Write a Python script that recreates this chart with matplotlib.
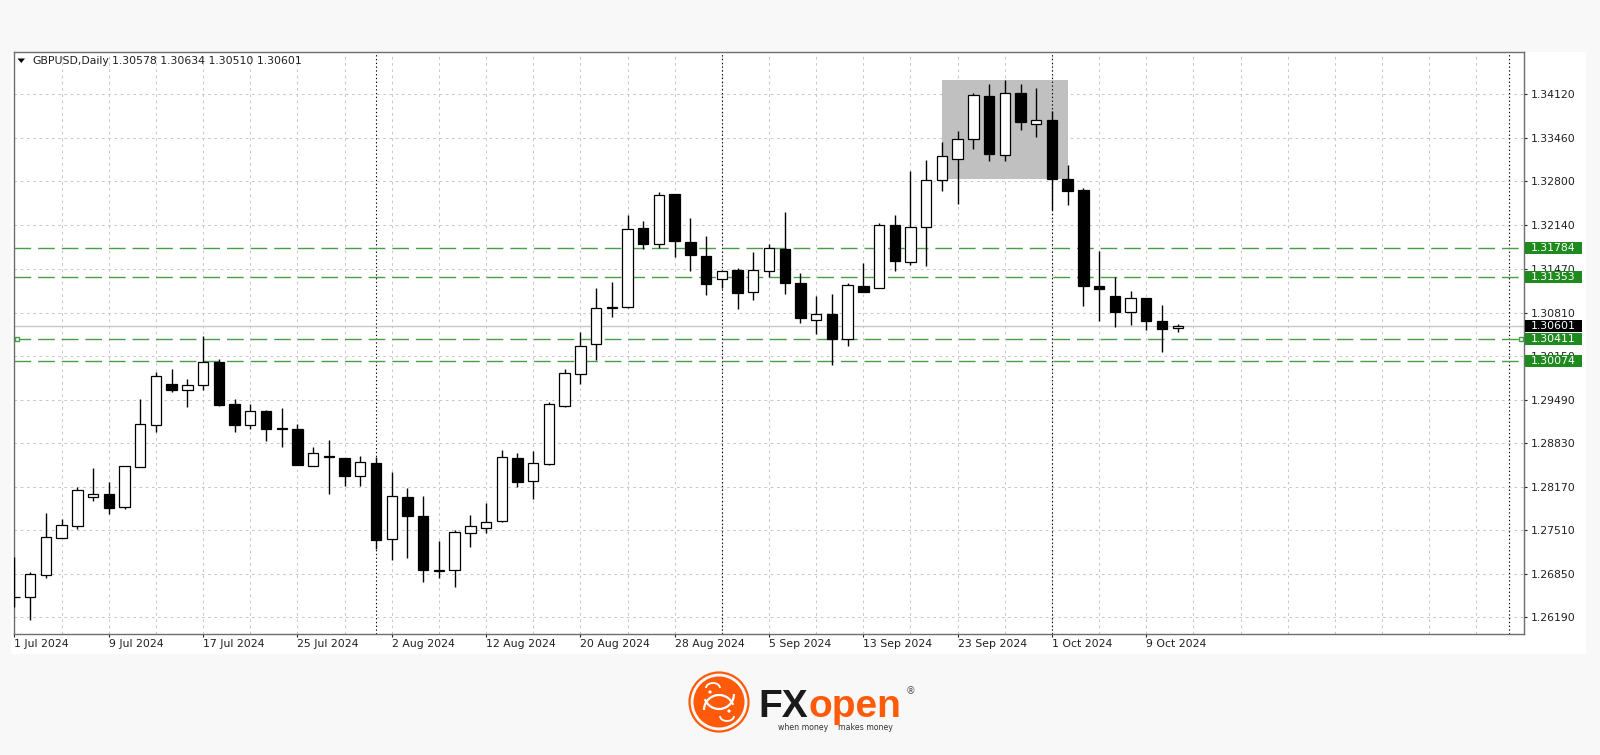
import matplotlib
matplotlib.use("Agg")
import matplotlib.pyplot as plt
import matplotlib.transforms as mtransforms
from matplotlib.patches import Rectangle, Circle, Polygon, Arc
import numpy as np
import pandas as pd

plt.rcParams['font.family'] = ['DejaVu Sans']

# ---------------- data ----------------
symbol_header = "GBPUSD,Daily"
header_ohlc = "1.30578 1.30634 1.30510 1.30601"

dates = pd.bdate_range("2024-07-01", "2024-10-11")

opens = [1.26505, 1.26502, 1.26831, 1.27388, 1.27574, 1.28010, 1.28060, 1.27858, 1.28474, 1.29106,
         1.29732, 1.29641, 1.29712, 1.30066, 1.29429, 1.29106, 1.29318, 1.29055, 1.29045, 1.28489,
         1.28636, 1.28605, 1.28337, 1.28534, 1.27373, 1.28019, 1.27726, 1.26907, 1.26907, 1.27468,
         1.27549, 1.27650, 1.28610, 1.28261, 1.28515, 1.29399, 1.29875, 1.30330, 1.30880, 1.30900,
         1.32098, 1.31846, 1.32613, 1.31885, 1.31668, 1.31320, 1.31456, 1.31118, 1.31436, 1.31775,
         1.31264, 1.30698, 1.30789, 1.30410, 1.31218, 1.31183, 1.32138, 1.31573, 1.32108, 1.32816,
         1.33144, 1.33442, 1.34099, 1.33204, 1.34135, 1.33675, 1.33726, 1.32831, 1.32669, 1.31218,
         1.31062, 1.30815, 1.31027, 1.30683, 1.30578]
highs = [1.27109, 1.26881, 1.27776, 1.27676, 1.28170, 1.28458, 1.28246, 1.28480, 1.29496, 1.29905,
         1.29950, 1.29799, 1.30455, 1.30102, 1.29500, 1.29424, 1.29338, 1.29368, 1.29121, 1.28777,
         1.28878, 1.28605, 1.28640, 1.28625, 1.28398, 1.28151, 1.28025, 1.27351, 1.27509, 1.27746,
         1.27928, 1.28727, 1.28681, 1.28712, 1.29450, 1.29960, 1.30521, 1.31188, 1.31279, 1.32290,
         1.32204, 1.32634, 1.32613, 1.32249, 1.31976, 1.31446, 1.31482, 1.31734, 1.31846, 1.32340,
         1.31406, 1.31062, 1.31092, 1.31254, 1.31558, 1.32164, 1.32290, 1.32962, 1.33124, 1.33392,
         1.33568, 1.34135, 1.34281, 1.34342, 1.34272, 1.34216, 1.33872, 1.33044, 1.32695, 1.31740,
         1.31345, 1.31133, 1.31027, 1.30925, 1.30634]
lows = [1.26342, 1.26149, 1.26781, 1.27388, 1.27529, 1.27953, 1.27761, 1.27828, 1.28465, 1.29004,
        1.29602, 1.29374, 1.29637, 1.29389, 1.29000, 1.29050, 1.28863, 1.28768, 1.28499, 1.28489,
        1.28055, 1.28186, 1.28186, 1.27226, 1.27059, 1.27085, 1.26721, 1.26790, 1.26645, 1.27261,
        1.27473, 1.27631, 1.28161, 1.27979, 1.28499, 1.29383, 1.29728, 1.30091, 1.30748, 1.30885,
        1.31770, 1.31790, 1.31658, 1.31436, 1.31072, 1.31179, 1.30860, 1.30997, 1.31345, 1.31088,
        1.30648, 1.30486, 1.30016, 1.30304, 1.31118, 1.31183, 1.31445, 1.31532, 1.31521, 1.32659,
        1.32457, 1.33295, 1.33104, 1.33113, 1.33574, 1.33477, 1.32366, 1.32442, 1.30910, 1.30683,
        1.30587, 1.30622, 1.30546, 1.30208, 1.30510]
closes = [1.26500, 1.26851, 1.27403, 1.27590, 1.28116, 1.28060, 1.27852, 1.28480, 1.29126, 1.29853,
          1.29641, 1.29712, 1.30066, 1.29414, 1.29106, 1.29314, 1.29050, 1.29045, 1.28499, 1.28677,
          1.28616, 1.28337, 1.28545, 1.27358, 1.28029, 1.27726, 1.26907, 1.26897, 1.27488, 1.27579,
          1.27631, 1.28625, 1.28246, 1.28534, 1.29424, 1.29894, 1.30308, 1.30875, 1.30900, 1.32078,
          1.31855, 1.32598, 1.31900, 1.31684, 1.31248, 1.31446, 1.31112, 1.31452, 1.31785, 1.31259,
          1.30724, 1.30794, 1.30410, 1.31224, 1.31118, 1.32138, 1.31588, 1.32113, 1.32821, 1.33185,
          1.33442, 1.34105, 1.33210, 1.34135, 1.33700, 1.33726, 1.32836, 1.32659, 1.31214, 1.31168,
          1.30815, 1.31027, 1.30683, 1.30557, 1.30601]

level_lines = [1.31784, 1.31353, 1.30411, 1.30074]
bid_price = 1.30601
y_ticks = [1.26190, 1.26850, 1.27510, 1.28170, 1.28830, 1.29490, 1.30150,
           1.30810, 1.31470, 1.32140, 1.32800, 1.33460, 1.34120]
separator_dates = ["2024-08-01", "2024-09-02", "2024-10-01"]
extra_separator_bar = 95.05
zone_start_date, zone_end_date = "2024-09-20", "2024-10-02"
zone_low, zone_high = 1.32831, 1.34337

# ---------------- layout helpers ----------------
W, H = 1600, 755
def fx(px):
    return px / W
def fy(py):
    return 1 - py / H

fig = plt.figure(figsize=(W / 100, H / 100), dpi=100)
fig.patch.set_facecolor('#f8f8f8')
fig.patches.append(Rectangle((fx(11), fy(654)), fx(1586) - fx(11), fy(52) - fy(654),
                             transform=fig.transFigure, facecolor='white', edgecolor='none', zorder=-5))

ax = fig.add_axes([fx(14), fy(633.5), fx(1524) - fx(14), fy(52) - fy(633.5)])
ax.set_zorder(1)
ax.set_facecolor('white')
n_visible = 96.06
ax.set_xlim(-0.03, n_visible - 0.03)
ax.set_ylim(1.25944, 1.34762)

for s in ax.spines.values():
    s.set_color('#6e6e6e')
    s.set_linewidth(1.0)

n = len(opens)
xi = np.arange(n)
date_index = {d.strftime("%Y-%m-%d"): i for i, d in enumerate(dates)}

# grid
grid_color = '#c8c8c8'
for gx in np.arange(0, 97, 3):
    ax.axvline(gx, color=grid_color, lw=0.75, linestyle=(0, (2.5, 3.5)), zorder=1)
for gy in y_ticks:
    ax.axhline(gy, color=grid_color, lw=0.75, linestyle=(0, (2.5, 3.5)), zorder=1)

# highlighted zone
zs, ze = date_index[zone_start_date], date_index[zone_end_date]
ax.add_patch(Rectangle((zs, zone_low), ze - zs, zone_high - zone_low,
                       facecolor='#c0c0c0', edgecolor='none', zorder=1.5))

# period separators
for d in separator_dates:
    ax.axvline(date_index[d], color='black', lw=0.8, linestyle=(0, (1.2, 2.2)), zorder=2)
ax.axvline(extra_separator_bar, color='black', lw=0.8, linestyle=(0, (1.2, 2.2)), zorder=2)

# bid line
ax.axhline(bid_price, color='#c8c8c8', lw=1.0, zorder=2)

# green levels
green_line = '#4a9e4a'
for lv in level_lines:
    ax.axhline(lv, color=green_line, lw=1.0, dashes=(12, 5), zorder=2.2)
ax.plot([0.15, 95.85], [level_lines[2], level_lines[2]], ls='none', marker='s', ms=3.2,
        mfc='white', mec=green_line, mew=1.0, zorder=2.3, clip_on=False)

# candles
o = np.array(opens); c = np.array(closes); h = np.array(highs); l = np.array(lows)
ax.vlines(xi, l, h, color='black', lw=1.0, zorder=3)
bottoms = np.minimum(o, c)
heights = np.maximum(np.abs(c - o), 1e-6)
cols = ['white' if cc >= oo else 'black' for oo, cc in zip(o, c)]
ax.bar(xi, heights, bottom=bottoms, width=0.66, color=cols, edgecolor='black',
       linewidth=0.9, zorder=4)

# y axis on right
ax.yaxis.tick_right()
ax.set_yticks(y_ticks)
ax.set_yticklabels([f"{v:.5f}" for v in y_ticks])
ax.tick_params(axis='y', length=2.2, width=0.8, pad=2.6, labelsize=7.8,
               colors='#202020', direction='out')

# x axis
label_idx = list(range(0, 73, 6))
ax.set_xticks(label_idx)
ax.set_xticklabels([f"{dates[i].day} {dates[i].strftime('%b %Y')}" for i in label_idx],
                   ha='left')
ax.tick_params(axis='x', length=2.2, width=0.8, pad=1.6, labelsize=7.8, colors='#202020')

# price labels on right
blend = mtransforms.blended_transform_factory(fig.transFigure, ax.transData)
px_per_unit = (633.5 - 52) / (1.34762 - 1.25944)
box_h = 12.0 / px_per_unit
def price_label(val, face):
    fig.patches.append(Rectangle((fx(1525), val - box_h / 2), fx(1582) - fx(1525), box_h,
                                 transform=blend, facecolor=face, edgecolor='none', zorder=5))
    fig.text(fx(1553.5), val, f"{val:.5f}", transform=blend, ha='center', va='center',
             fontsize=7.8, color='white', zorder=6)

for lv in level_lines:
    price_label(lv, '#1f8b1f')
price_label(bid_price, 'black')

# header
fig.patches.append(Polygon([[fx(17.5), fy(58.5)], [fx(25), fy(58.5)], [fx(21.25), fy(63)]],
                           closed=True, transform=fig.transFigure, facecolor='black',
                           edgecolor='none', zorder=6))
fig.text(fx(32), fy(61.5), symbol_header, fontsize=7.8, color='#202020', va='center', ha='left',
         zorder=6)
fig.text(fx(111.5), fy(61.5), header_ohlc, fontsize=7.8, color='#202020', va='center', ha='left',
         zorder=6)

# ---------------- logo ----------------
orange = '#ff5a0a'
fig.text(fx(758), fy(717), "FX", fontsize=28, fontweight='bold', family='Liberation Sans',
         color='#1a1a1a', va='baseline', ha='left')
fig.text(fx(808), fy(717), "open", fontsize=28, fontweight='bold', family='Liberation Sans',
         color=orange, va='baseline', ha='left')
fig.text(fx(906), fy(691), "®", fontsize=7, color='#555555', va='center', ha='left')
fig.text(fx(778), fy(727), "when money", fontsize=5.6, color='#333333', va='center', ha='left')
fig.text(fx(838), fy(727), "makes money", fontsize=5.6, color='#333333', va='center', ha='left')

lax = fig.add_axes([fx(719 - 32), fy(702 + 32), 64 / W, 64 / H])
lax.set_xlim(-32, 32); lax.set_ylim(-32, 32); lax.axis('off')
lax.add_patch(Circle((0, 0), 29.5, facecolor='none', edgecolor=orange, lw=1.6))
lax.add_patch(Circle((0, 0), 25.5, facecolor=orange, edgecolor='none'))
lax.add_patch(Arc((0, 8), 30, 30, theta1=200, theta2=360, color='white', lw=1.6))
lax.add_patch(Arc((0, -8), 30, 30, theta1=20, theta2=180, color='white', lw=1.6))
lax.add_patch(Arc((-6, 14), 14, 10, theta1=0, theta2=180, color='white', lw=1.3))
lax.add_patch(Arc((8, -14), 14, 10, theta1=180, theta2=360, color='white', lw=1.3))
lax.add_patch(Circle((-9, 10), 1.6, facecolor='white', edgecolor='none'))
lax.add_patch(Circle((10, -9), 1.6, facecolor='white', edgecolor='none'))

fig.savefig("out.png", dpi=100, facecolor=fig.get_facecolor())
